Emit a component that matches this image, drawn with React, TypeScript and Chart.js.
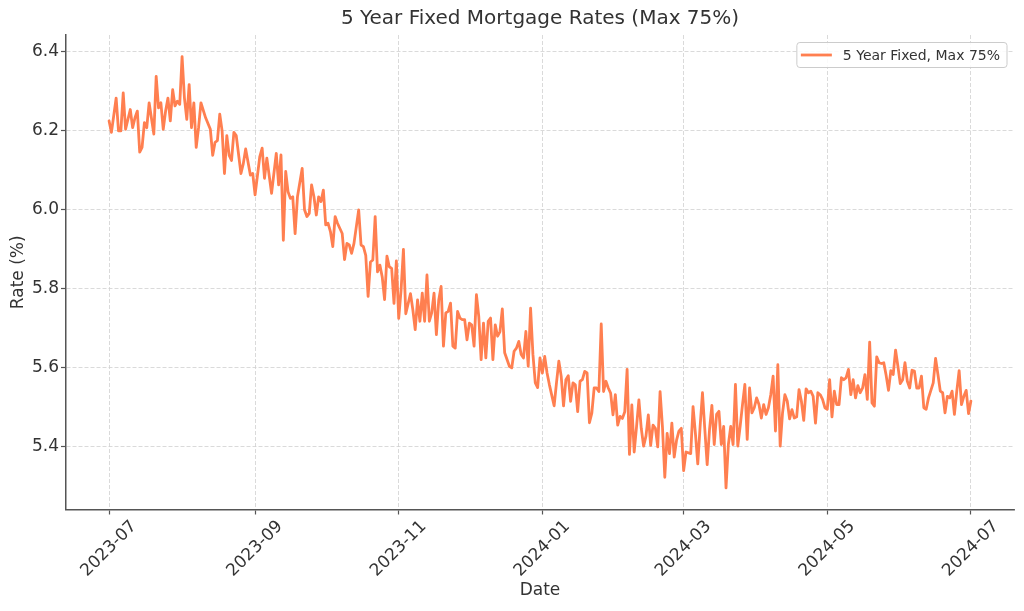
import React, { useEffect, useRef } from 'react';
import { Chart, registerables } from 'chart.js';

Chart.register(...registerables);

// day offsets counted from 2023-07-01
const dayOffsets = [
  0, 1, 3, 4, 5, 6, 7, 9, 10, 11, 12, 13, 14, 15, 16, 17, 19, 20, 21, 22, 23, 24, 25, 26, 27, 28, 29, 30,
  31, 32, 33, 34, 35, 36, 37, 38, 39, 41, 43, 44, 45, 46, 47, 48, 49, 50, 51, 52, 53, 54, 56, 57, 58, 60,
  61, 62, 64, 65, 66, 67, 69, 71, 72, 73, 74, 75, 76, 77, 78, 79, 80, 82, 83, 84, 85, 86, 87, 88, 89, 90,
  91, 92, 93, 94, 95, 96, 97, 99, 100, 101, 102, 103, 104, 106, 107, 108, 109, 110, 111, 112, 113, 114,
  115, 116, 117, 118, 119, 120, 121, 122, 123, 124, 125, 126, 128, 129, 130, 131, 132, 133, 134, 135, 136,
  137, 138, 139, 140, 141, 142, 143, 144, 145, 146, 147, 148, 149, 150, 151, 152, 153, 154, 155, 156, 157,
  158, 159, 160, 161, 162, 163, 164, 165, 166, 167, 168, 170, 171, 172, 173, 174, 175, 176, 177, 178, 179,
  180, 181, 182, 183, 184, 185, 186, 187, 189, 190, 191, 192, 193, 194, 195, 196, 197, 198, 199, 200, 201,
  202, 203, 204, 205, 206, 207, 208, 209, 210, 211, 212, 213, 214, 215, 216, 217, 218, 219, 220, 221, 222,
  223, 224, 225, 226, 227, 228, 229, 230, 231, 232, 233, 234, 235, 236, 237, 238, 239, 240, 241, 242, 243,
  244, 245, 247, 248, 249, 250, 251, 252, 253, 254, 255, 256, 257, 258, 259, 260, 261, 262, 263, 264, 265,
  266, 267, 268, 269, 270, 271, 272, 273, 274, 275, 276, 277, 278, 279, 280, 281, 282, 283, 284, 285, 286,
  287, 288, 289, 290, 291, 292, 293, 294, 295, 296, 297, 298, 299, 300, 301, 302, 303, 304, 305, 306, 307,
  308, 309, 310, 311, 312, 313, 314, 315, 316, 317, 318, 319, 320, 321, 322, 323, 324, 325, 326, 327, 328,
  329, 330, 331, 332, 333, 334, 335, 336, 337, 338, 339, 340, 341, 342, 343, 344, 345, 346, 347, 348, 350,
  351, 352, 353, 354, 355, 356, 357, 358, 359, 360, 361, 362, 363, 364, 365, 366,
];

const rates = [
  6.225, 6.196, 6.283, 6.2, 6.2, 6.296, 6.204, 6.254, 6.208, 6.233, 6.25, 6.146, 6.158, 6.221, 6.208, 6.271,
  6.192, 6.338, 6.258, 6.271, 6.204, 6.25, 6.283, 6.225, 6.304, 6.263, 6.275, 6.267, 6.388, 6.283, 6.229,
  6.317, 6.208, 6.271, 6.158, 6.208, 6.271, 6.233, 6.204, 6.138, 6.171, 6.175, 6.242, 6.2, 6.092, 6.188,
  6.138, 6.125, 6.196, 6.188, 6.092, 6.117, 6.154, 6.088, 6.092, 6.038, 6.135, 6.156, 6.08, 6.131, 6.042,
  6.143, 6.063, 6.139, 5.923, 6.097, 6.046, 6.029, 6.033, 5.94, 6.033, 6.105, 6.0, 5.983, 5.991, 6.063,
  6.033, 5.987, 6.033, 6.021, 6.05, 5.962, 5.966, 5.945, 5.907, 5.983, 5.966, 5.94, 5.874, 5.915, 5.911,
  5.89, 5.915, 6.0, 5.911, 5.907, 5.885, 5.781, 5.868, 5.873, 5.983, 5.843, 5.86, 5.83, 5.773, 5.883,
  5.856, 5.852, 5.763, 5.871, 5.725, 5.797, 5.9, 5.737, 5.788, 5.747, 5.697, 5.772, 5.718, 5.789, 5.718,
  5.835, 5.718, 5.739, 5.789, 5.684, 5.772, 5.806, 5.655, 5.739, 5.743, 5.764, 5.655, 5.65, 5.743, 5.726,
  5.722, 5.722, 5.671, 5.713, 5.709, 5.655, 5.785, 5.73, 5.621, 5.713, 5.625, 5.718, 5.726, 5.621, 5.709,
  5.68, 5.692, 5.749, 5.638, 5.604, 5.6, 5.642, 5.65, 5.667, 5.634, 5.625, 5.692, 5.604, 5.751, 5.634,
  5.562, 5.55, 5.625, 5.587, 5.629, 5.587, 5.557, 5.504, 5.562, 5.617, 5.579, 5.504, 5.57, 5.58, 5.515,
  5.562, 5.557, 5.489, 5.566, 5.57, 5.591, 5.587, 5.461, 5.485, 5.549, 5.549, 5.54, 5.711, 5.54, 5.566,
  5.549, 5.536, 5.481, 5.532, 5.455, 5.477, 5.472, 5.489, 5.596, 5.381, 5.506, 5.387, 5.451, 5.519, 5.447,
  5.402, 5.427, 5.481, 5.404, 5.455, 5.447, 5.4, 5.54, 5.451, 5.323, 5.434, 5.383, 5.46, 5.374, 5.417,
  5.44, 5.447, 5.34, 5.387, 5.383, 5.502, 5.434, 5.357, 5.452, 5.537, 5.444, 5.355, 5.444, 5.505, 5.406,
  5.482, 5.49, 5.406, 5.452, 5.296, 5.406, 5.452, 5.406, 5.558, 5.402, 5.452, 5.507, 5.558, 5.419, 5.549,
  5.486, 5.499, 5.524, 5.507, 5.473, 5.507, 5.482, 5.499, 5.532, 5.579, 5.44, 5.608, 5.402, 5.486, 5.532,
  5.516, 5.471, 5.494, 5.473, 5.476, 5.545, 5.516, 5.467, 5.547, 5.537, 5.541, 5.528, 5.46, 5.537, 5.532,
  5.52, 5.499, 5.495, 5.57, 5.476, 5.541, 5.507, 5.507, 5.575, 5.57, 5.575, 5.596, 5.532, 5.57, 5.524,
  5.555, 5.537, 5.549, 5.583, 5.52, 5.665, 5.511, 5.503, 5.628, 5.613, 5.611, 5.613, 5.581, 5.543, 5.593,
  5.583, 5.645, 5.604, 5.56, 5.57, 5.613, 5.566, 5.549, 5.594, 5.592, 5.549, 5.549, 5.579, 5.499, 5.495,
  5.524, 5.562, 5.624, 5.583, 5.541, 5.537, 5.486, 5.528, 5.524, 5.541, 5.482, 5.541, 5.593, 5.507, 5.528,
  5.543, 5.484, 5.516,
];

const tickDays = [0, 62, 123, 184, 244, 305, 366];
const tickLabels = ['2023-07', '2023-09', '2023-11', '2024-01', '2024-03', '2024-05', '2024-07'];
const rateTicks = [5.4, 5.6, 5.8, 6.0, 6.2, 6.4];
const seriesLabel = '5 Year Fixed, Max 75%';

const lineColor = '#ff7f50';
const textColor = '#333333';
const axisColor = '#555555';
const gridColor = '#d0d0d0';

// legend box sitting inside the plot, top right
const insideLegend = {
  id: 'insideLegend',
  afterDatasetsDraw(chart: any) {
    const { ctx, chartArea } = chart;
    ctx.save();
    ctx.font = '14px "DejaVu Sans"';
    const textW = ctx.measureText(seriesLabel).width;
    const w = 4 + 31 + 11 + textW + 7;
    const h = 25;
    const x = chartArea.right - 7 - w;
    const y = chartArea.top + 7.5;
    ctx.beginPath();
    ctx.roundRect(x, y, w, h, 3);
    ctx.fillStyle = 'rgba(255,255,255,0.85)';
    ctx.fill();
    ctx.strokeStyle = '#cccccc';
    ctx.lineWidth = 1;
    ctx.stroke();
    ctx.beginPath();
    ctx.moveTo(x + 4, y + h / 2);
    ctx.lineTo(x + 35, y + h / 2);
    ctx.strokeStyle = lineColor;
    ctx.lineWidth = 2.8;
    ctx.stroke();
    ctx.fillStyle = textColor;
    ctx.textBaseline = 'middle';
    ctx.fillText(seriesLabel, x + 46, y + h / 2 + 1);
    ctx.restore();
  },
};

export default function App() {
  const canvasRef = useRef<HTMLCanvasElement | null>(null);
  const chartRef = useRef<Chart<'line'> | null>(null);

  useEffect(() => {
    document.body.style.margin = '0';
    if (!canvasRef.current) return;

    chartRef.current = new Chart(canvasRef.current, {
      type: 'line',
      data: {
        datasets: [
          {
            label: seriesLabel,
            data: dayOffsets.map((d, i) => ({ x: d, y: rates[i] })),
            borderColor: lineColor,
            borderWidth: 2.8,
            pointRadius: 0,
            tension: 0,
            borderJoinStyle: 'round',
            borderCapStyle: 'round',
          },
        ],
      },
      options: {
        animation: false,
        responsive: false,
        layout: { padding: { top: 0, right: 10, bottom: 0, left: 0 } },
        font: { family: '"DejaVu Sans"' },
        plugins: {
          legend: { display: false },
          tooltip: { enabled: false },
          title: {
            display: true,
            text: '5 Year Fixed Mortgage Rates (Max 75%)',
            color: textColor,
            fullSize: false,
            font: { family: '"DejaVu Sans"', size: 20, weight: 'normal' },
            padding: { top: 7, bottom: 4 },
          },
        },
        scales: {
          x: {
            type: 'linear',
            min: -18.3,
            max: 384.3,
            afterBuildTicks: (scale: any) => {
              scale.ticks = tickDays.map((v) => ({ value: v }));
            },
            afterFit: (scale: any) => {
              scale.height = 101.5;
            },
            ticks: {
              autoSkip: false,
              minRotation: 45,
              maxRotation: 45,
              labelOffset: 25,
              padding: 2,
              color: textColor,
              font: { family: '"DejaVu Sans"', size: 17 },
              callback: (v: any) => tickLabels[tickDays.indexOf(Number(v))] ?? '',
            },
            grid: {
              color: gridColor,
              lineWidth: 0.8,
              tickColor: axisColor,
              tickWidth: 1.2,
              tickLength: 5,
            },
            border: { color: axisColor, width: 1.5, dash: [4, 2] },
            title: {
              display: true,
              text: 'Date',
              color: textColor,
              font: { family: '"DejaVu Sans"', size: 17 },
              padding: { top: 0, bottom: 10 },
            },
          },
          y: {
            type: 'linear',
            min: 5.2414,
            max: 6.4426,
            afterBuildTicks: (scale: any) => {
              scale.ticks = rateTicks.map((v) => ({ value: v }));
            },
            afterFit: (scale: any) => {
              scale.width = 66;
            },
            ticks: {
              padding: 2,
              color: textColor,
              font: { family: '"DejaVu Sans"', size: 17 },
              callback: (v: any) => Number(v).toFixed(1),
            },
            grid: {
              color: gridColor,
              lineWidth: 0.8,
              tickColor: axisColor,
              tickWidth: 1.2,
              tickLength: 5,
            },
            border: { color: axisColor, width: 1.5, dash: [4, 2] },
            title: {
              display: true,
              text: 'Rate (%)',
              color: textColor,
              font: { family: '"DejaVu Sans"', size: 17 },
              padding: { top: 8, bottom: 0 },
            },
          },
        },
      },
      plugins: [insideLegend],
    } as any);

    return () => {
      chartRef.current?.destroy();
    };
  }, []);

  return (
    <div style={{ width: 1024, height: 611, background: '#fff' }}>
      <canvas
        ref={canvasRef}
        width={1024}
        height={611}
        style={{ width: 1024, height: 611, display: 'block' }}
      />
    </div>
  );
}
